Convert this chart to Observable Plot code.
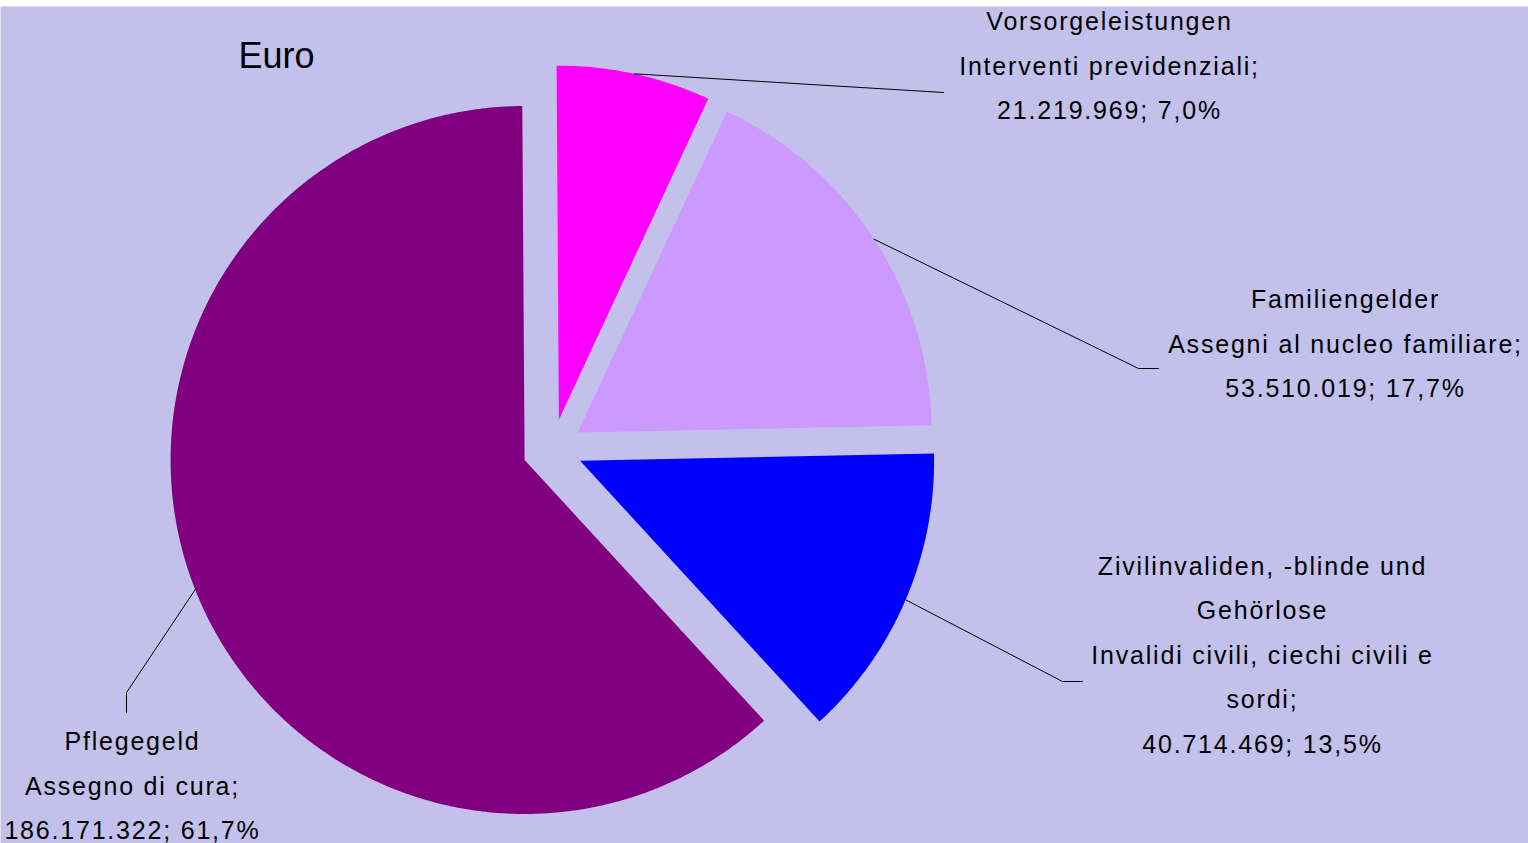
<!DOCTYPE html>
<html>
<head>
<meta charset="utf-8">
<script src="https://cdn.jsdelivr.net/npm/d3@7"></script>
<script src="https://cdn.jsdelivr.net/npm/@observablehq/plot@0.6"></script>
<style>
  html, body { margin: 0; padding: 0; background: #ffffff; }
  #chart svg { display: block; }
</style>
</head>
<body>
<div id="chart"></div>
<script>
// ---------- DATA ----------
const categoriesDe = ["Vorsorgeleistungen", "Familiengelder", "Zivilinvaliden, -blinde und Gehörlose", "Pflegegeld"];
const categoriesIt = ["Interventi previdenziali", "Assegni al nucleo familiare", "Invalidi civili, ciechi civili e sordi", "Assegno di cura"];
const values = [21219969, 53510019, 40714469, 186171322];
const sliceColors = ["#FF00FF", "#CC99FF", "#0000FF", "#800080"];
const chartTitle = "Euro";

// ---------- LAYOUT ----------
const W = 1528, H = 843;
const bg = "#C3C1EB";
const center = {x: 552, y: 448.5};
const radius = 354;
const explode = 30;
const rotation = -0.37 * Math.PI / 180;
const wrapChars = 32;
// label block centers and leader elbows (after the rim point)
const labelPos = [
  {x: 1109, y: 60,  leader: [[943, 92]]},
  {x: 1345, y: 338, leader: [[1138, 368], [1158, 368]]},
  {x: 1262, y: 649, leader: [[1062, 681], [1082, 681]]},
  {x: 132,  y: 780, leader: [[126, 692], [126, 712]]}
];
const titlePos = {x: 238, y: 55.5};

// ---------- COMPUTE ----------
const de = d3.formatLocale({decimal: ",", thousands: ".", grouping: [3], currency: ["", " €"]});
const fmtInt = de.format(",d");
const fmtPct = de.format(".1%");
const total = d3.sum(values);

function wrap(s, n) {
  const words = s.split(" ");
  const lines = [];
  let cur = "";
  for (const w of words) {
    if (cur && (cur + " " + w).length > n) { lines.push(cur); cur = w; }
    else cur = cur ? cur + " " + w : w;
  }
  if (cur) lines.push(cur);
  return lines;
}

const arcs = d3.pie().sort(null).startAngle(rotation).endAngle(rotation + 2 * Math.PI)(values);

const slicePts = [];
const leaderPts = [];
const labels = [];
arcs.forEach((a, i) => {
  const mid = (a.startAngle + a.endAngle) / 2;
  const ax = center.x + explode * Math.sin(mid);
  const ay = center.y - explode * Math.cos(mid);
  slicePts.push({k: i, x: ax, y: ay, c: sliceColors[i]});
  const n = Math.max(2, Math.ceil((a.endAngle - a.startAngle) / (Math.PI / 360)));
  for (let j = 0; j <= n; j++) {
    const t = a.startAngle + (a.endAngle - a.startAngle) * j / n;
    slicePts.push({k: i, x: ax + radius * Math.sin(t), y: ay - radius * Math.cos(t), c: sliceColors[i]});
  }
  // leader line: from rim at mid angle, through layout elbows
  leaderPts.push({k: i, x: ax + radius * Math.sin(mid), y: ay - radius * Math.cos(mid)});
  for (const [lx, ly] of labelPos[i].leader) leaderPts.push({k: i, x: lx, y: ly});
  // label text
  const lines = [
    ...wrap(categoriesDe[i], wrapChars),
    ...wrap(categoriesIt[i] + ";", wrapChars),
    fmtInt(values[i]) + "; " + fmtPct(values[i] / total)
  ];
  labels.push({x: labelPos[i].x, y: labelPos[i].y, text: lines.join("\n")});
});

const plot = Plot.plot({
  width: W,
  height: H,
  margin: 0,
  marginTop: 6,
  x: {type: "identity", axis: null},
  y: {type: "identity", axis: null},
  color: {type: "identity"},
  style: {fontFamily: "'Liberation Sans', Arial, sans-serif", background: "#ffffff", color: "#000"},
  marks: [
    Plot.frame({fill: bg, stroke: "none"}),
    Plot.line(slicePts, {x: "x", y: "y", z: "k", fill: "c", stroke: "none", curve: "linear"}),
    Plot.line(leaderPts, {x: "x", y: "y", z: "k", stroke: "#000", strokeWidth: 1, curve: "linear"}),
    Plot.text([chartTitle], {x: () => titlePos.x, y: () => titlePos.y, text: d => d, fontSize: 36, textAnchor: "start", fill: "#000"}),
    Plot.text(labels, {x: "x", y: "y", text: "text", fontSize: 25, lineHeight: 1.785, textAnchor: "middle", fill: "#000"})
  ]
});

document.getElementById("chart").appendChild(plot);
const textGroups = plot.querySelectorAll('g[aria-label="text"]');
if (textGroups.length > 1) textGroups[textGroups.length - 1].setAttribute("letter-spacing", "1.8px");
</script>
</body>
</html>
